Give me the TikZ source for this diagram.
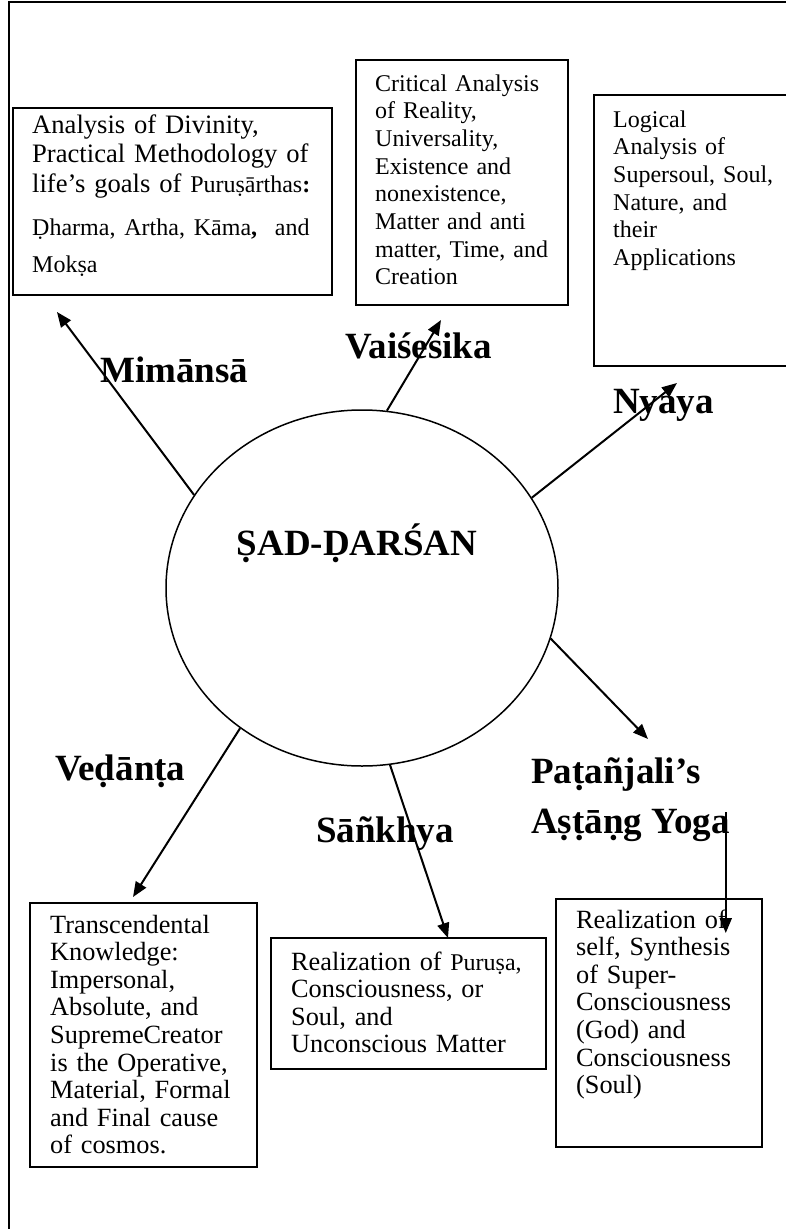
\documentclass[tikz,border=0pt]{standalone}
\usepackage{fontspec}
\setmainfont{Liberation Serif}
\usetikzlibrary{arrows.meta,shapes.geometric,calc}

\begin{document}
\begin{tikzpicture}[x=1pt, y=-1pt,
    box/.style={draw, line width=1.5pt, inner sep=0pt, anchor=north west},
    boxtext/.style={anchor=base west, inner sep=0pt, align=left, text width=#1},
    smalltext/.style={font=\fontsize{24}{27.7}\selectfont},
    bigtext/.style={font=\fontsize{26.3}{27.6}\selectfont},
    school/.style={anchor=base west, inner sep=0pt, font=\fontsize{37}{44}\selectfont\bfseries},
    arr/.style={line width=2pt, -{Triangle[length=15pt, width=12pt]}}]
  \useasboundingbox (0,0) rectangle (786,1229);
  % 外枠
  \draw[line width=2pt] (800,2) -- (9,2) -- (9,1240);
  % 中央の円
  \node[ellipse, draw, line width=1.5pt, minimum width=392pt, minimum height=356pt, inner sep=0pt] (darshan) at (362,588) {};
  \node[school, anchor=base] (title) at (357,555) {ṢAD-ḌARŚAN};
  % 上段の箱
  \node[box, minimum width=319pt, minimum height=187pt] (mimbox) at (12,107) {};
  \node[box, minimum width=212pt, minimum height=245pt] (vaibox) at (355,59) {};
  \node[box, minimum width=230pt, minimum height=271pt] (nyabox) at (593,94) {};
  \node[boxtext=300pt, font=\fontsize{26.6}{29.5}\selectfont] (mimtext) at (32,133)
    {Analysis of Divinity,\\
     Practical Methodology of\\
     life's goals of {\fontsize{24}{27.7}\selectfont Puruṣārthas\textbf{:}}\\[14pt]
     {\fontsize{24}{27.7}\selectfont Ḍharma, Artha, Kāma\textbf{,}\ \ and}\\[7.5pt]
     {\fontsize{24}{27.7}\selectfont Mokṣa}};
  \node[boxtext=185pt, smalltext] (vaitext) at (375,91)
    {Critical Analysis\\ of Reality,\\ Universality,\\ Existence and\\ nonexistence,\\
     Matter and anti\\ matter, Time, and\\ Creation};
  \node[boxtext=170pt, smalltext] (nyatext) at (613,127)
    {Logical\\ Analysis of\\ Supersoul, Soul,\\ Nature, and\\ their\\ Applications};
  % 下段の箱
  \node[box, minimum width=227pt, minimum height=264pt] (vedbox) at (29,902) {};
  \node[box, minimum width=275pt, minimum height=131pt] (sanbox) at (270,937) {};
  \node[box, minimum width=206pt, minimum height=248pt] (patbox) at (555,898) {};
  \node[boxtext=200pt, bigtext] (vedtext) at (50,933)
    {Transcendental\\ Knowledge:\\ Impersonal,\\ Absolute, and\\ SupremeCreator\\
     is the Operative,\\ Material, Formal\\ and Final cause\\ of cosmos.};
  \node[boxtext=250pt, bigtext] (santext) at (291,970)
    {Realization of {\fontsize{24}{27.7}\selectfont Puruṣa,}\\ Consciousness, or\\
     Soul, and\\ Unconscious Matter};
  \node[boxtext=180pt, bigtext] (pattext) at (576,928)
    {Realization of\\ self, Synthesis\\ of Super-\\ Consciousness\\ (God) and\\
     Consciousness\\ (Soul)};
  % 六派の名前
  \node[school] (mimansa) at (100,382) {Mimānsā};
  \node[school] (vaisesika) at (345,358) {Vaiśesika};
  \node[school] (nyaya) at (613,413) {Nyaya};
  \node[school] (vedanta) at (55,780) {Veḍānṭa};
  \node[school] (sankhya) at (316,842) {Sāñkhya};
  \node[school] (patanjali) at (531,783) {Paṭañjali's};
  \node[school] (ashtang) at (531,833) {Aṣṭāṇg Yoga};
  % 矢印
  \coordinate (mimtip) at (57,312);
  \coordinate (vaitip) at (441,320);
  \coordinate (nyatip) at (677,383);
  \coordinate (pattip) at (648,739);
  \coordinate (santip) at (448,938);
  \coordinate (vedtip) at (133,897);
  \coordinate (yogtip) at (730,933);
  \coordinate (ystart) at ($(ashtang.north east)+(-4,4)$);
  \draw[arr] (darshan.151) -- (mimtip);
  \draw[arr] (darshan.82) -- (vaitip);
  \draw[arr] (darshan.28) -- (nyatip);
  \draw[arr] (darshan.-15) -- (pattip);
  \draw[arr] (darshan.-81) -- (santip);
  \draw[arr] (darshan.229) -- (vedtip);
  \draw[arr] (ystart) -- (ystart |- yogtip);
\end{tikzpicture}
\end{document}
